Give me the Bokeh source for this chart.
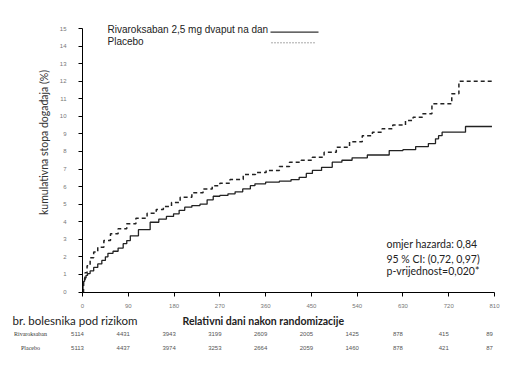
from bokeh.plotting import figure
from bokeh.models import Range1d, Label, FixedTicker, LinearAxis
from bokeh.embed import file_html
from bokeh.resources import INLINE
import math

# ---- data ----
riva_days = [0, 1, 2, 4, 7, 10, 15, 22, 30, 38, 45, 50, 60, 70, 80, 87, 94, 110, 133, 150, 165,
             179, 190, 201, 215, 231, 245, 257, 270, 286, 300, 315, 330, 339, 360, 387, 410, 426,
             440, 452, 470, 491, 510, 530, 560, 603, 630, 655, 680, 694, 700, 707, 749, 753, 805]
riva_vals = [0, 0.35, 0.6, 0.8, 0.95, 1.05, 1.2, 1.4, 1.6, 1.8, 2.0, 2.2, 2.32, 2.5, 2.75, 2.93,
             3.2, 3.55, 3.97, 4.15, 4.3, 4.45, 4.65, 4.83, 4.92, 5.0, 5.25, 5.45, 5.5, 5.59, 5.7,
             5.87, 6.05, 6.16, 6.25, 6.31, 6.4, 6.53, 6.75, 6.92, 7.1, 7.39, 7.5, 7.64, 7.8, 8.05,
             8.1, 8.28, 8.45, 8.72, 8.9, 9.1, 9.1, 9.42, 9.42]
plac_days = [0, 2, 5, 9, 15, 22, 30, 42, 55, 70, 87, 105, 127, 145, 159, 175, 192, 215, 237, 255,
             270, 290, 316, 340, 361, 387, 407, 430, 452, 475, 499, 525, 550, 570, 589, 610, 635,
             650, 668, 687, 723, 726, 740, 805]
plac_vals = [0, 0.7, 1.1, 1.5, 1.95, 2.27, 2.55, 2.93, 3.31, 3.6, 3.88, 4.2, 4.49, 4.7, 4.87, 5.1,
             5.4, 5.65, 5.87, 6.05, 6.19, 6.4, 6.69, 6.8, 6.92, 7.14, 7.39, 7.5, 7.67, 7.95, 8.24,
             8.55, 8.9, 9.1, 9.29, 9.5, 9.76, 9.95, 10.14, 10.71, 10.71, 11.28, 12.0, 12.0]

x_ticks = [0, 90, 180, 270, 360, 450, 540, 630, 720, 810]
x_tick_labels = ["0", "90", "180", "270", "360", "450", "540", "630", "720", "810"]
y_ticks = list(range(0, 16))
riva_at_risk = ["5114", "4431", "3943", "3199", "2609", "2005", "1425", "878", "415", "89"]
plac_at_risk = ["5113", "4437", "3974", "3253", "2664", "2059", "1460", "878", "421", "87"]

legend_riva = "Rivaroksaban 2,5 mg dvaput na dan"
legend_plac = "Placebo"
stats = ["omjer hazarda: 0,84", "95 % CI: (0,72, 0,97)", "p-vrijednost=0,020*"]

# ---- layout (canvas pixel geometry) ----
W, H = 527, 389
X0_PX, X1_PX = 82, 494      # canvas x of day 0 and day 810
Y0_PX, Y15_PX = 291.5, 28   # canvas y of 0 % and 15 %
XMAX, YMAX = 810, 15
sx = (X1_PX - X0_PX) / XMAX
sy = (Y0_PX - Y15_PX) / YMAX
def X(px):
    return (px - X0_PX) / sx
def Y(py):
    return (Y0_PX - py) / sy

p = figure(width=W, height=H, output_backend="svg", toolbar_location=None,
           x_range=Range1d(X(0), X(W)), y_range=Range1d(Y(H), Y(0)),
           x_axis_location=None, y_axis_location=None, min_border=0)
p.outline_line_color = None
p.xgrid.visible = False
p.ygrid.visible = False
p.background_fill_color = "white"
p.border_fill_color = "white"

xa = LinearAxis(fixed_location=0, bounds=(0, XMAX), ticker=FixedTicker(ticks=x_ticks))
ya = LinearAxis(fixed_location=0, bounds=(0, YMAX), ticker=FixedTicker(ticks=y_ticks))
xa.major_label_overrides = {t: l for t, l in zip(x_ticks, x_tick_labels)}
for ax in (xa, ya):
    ax.axis_line_color = "black"
    ax.axis_line_width = 1
    ax.major_tick_line_color = "black"
    ax.major_tick_out = 4
    ax.major_tick_in = 0
    ax.minor_tick_line_color = None
    ax.major_label_text_font = "Liberation Sans"
    ax.major_label_text_font_size = "6px"
    ax.major_label_text_color = "#777777"
xa.major_label_standoff = 8
ya.major_label_standoff = 12
p.add_layout(xa, "below")
p.add_layout(ya, "left")

# curves
p.step(plac_days, plac_vals, mode="after", line_color="#222222", line_width=1.5, line_dash="4 3")
p.step(riva_days, riva_vals, mode="after", line_color="#222222", line_width=1.3)

# legend (text then line sample)
p.add_layout(Label(x=X(107), y=Y(29), text=legend_riva, text_font="Liberation Sans",
                   text_font_size="10px", text_color="#222222", text_baseline="middle"))
p.add_layout(Label(x=X(107), y=Y(40.5), text=legend_plac, text_font="Liberation Sans",
                   text_font_size="10px", text_color="#222222", text_baseline="middle"))
p.line([X(270), X(318)], [Y(31.7), Y(31.7)], line_color="#333333", line_width=1.2)
p.line([X(271), X(316)], [Y(42.3), Y(42.3)], line_color="#555555", line_width=1, line_dash="1 2")

# statistics text
for s, py in zip(stats, [243, 258, 270]):
    p.add_layout(Label(x=X(386), y=Y(py), text=s, text_font="Lato", text_font_size="10.5px",
                       text_color="#222222", text_baseline="middle"))

# y axis label
p.add_layout(Label(x=X(43), y=Y(142), text="kumulativna stopa događaja (%)",
                   text_font="Lato", text_font_size="10.5px", text_color="#333333",
                   angle=math.pi / 2, text_align="center", text_baseline="middle"))

# below-axis texts
p.add_layout(Label(x=X(12), y=Y(320), text="br. bolesnika pod rizikom", text_font="Lato",
                   text_font_size="11.5px", text_color="#222222", text_baseline="middle"))
p.add_layout(Label(x=X(182), y=Y(320), text="Relativni  dani nakon randomizacije",
                   text_font="Lato", text_font_style="bold", text_font_size="10.5px",
                   text_color="#222222", text_baseline="middle"))
p.add_layout(Label(x=X(30), y=Y(333.5), text="Rivaroksaban", text_font="Liberation Serif",
                   text_font_size="6px", text_color="#333333", text_align="center",
                   text_baseline="middle"))
p.add_layout(Label(x=X(30), y=Y(347.5), text="Placebo", text_font="Liberation Serif",
                   text_font_size="6px", text_color="#333333", text_align="center",
                   text_baseline="middle"))
for t, a, b in zip(x_ticks, riva_at_risk, plac_at_risk):
    p.add_layout(Label(x=t, y=Y(333.5), x_offset=-5, text=a, text_font="Liberation Sans",
                       text_font_size="6px", text_color="#555555", text_align="center",
                       text_baseline="middle"))
    p.add_layout(Label(x=t, y=Y(347.5), x_offset=-5, text=b, text_font="Liberation Sans",
                       text_font_size="6px", text_color="#555555", text_align="center",
                       text_baseline="middle"))

open("out.html", "w").write(file_html(p, INLINE))
